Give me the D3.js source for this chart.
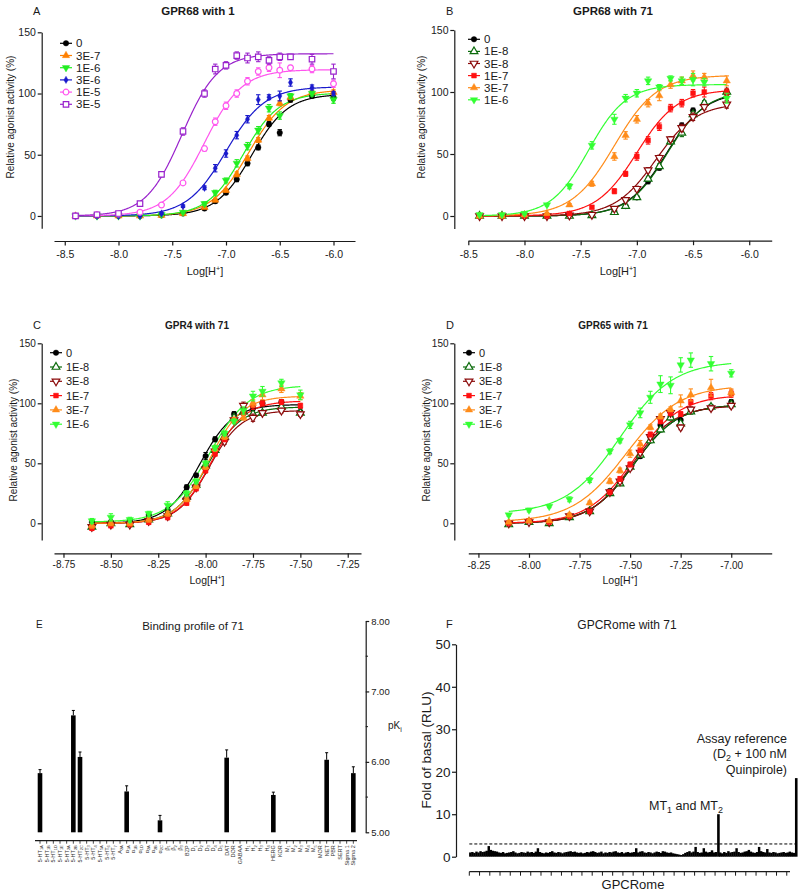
<!DOCTYPE html>
<html><head><meta charset="utf-8">
<script src="https://cdn.jsdelivr.net/npm/d3@7"></script>
<style>body{margin:0;background:#fff}svg{display:block}</style>
</head><body><svg id="c" width="800" height="892"></svg>
<script>
// ---------------- DATA ----------------
// Panel A: GPR68 with 1
const doseA = ["0","3E-7","1E-6","3E-6","1E-5","3E-5"];
const logHA = [-8.4,-8.2,-8.0,-7.8,-7.6,-7.4,-7.2,-7.1,-7.0,-6.9,-6.8,-6.7,-6.6,-6.5,-6.4,-6.2,-6.0];
const respA = [
 [0,0,0,0,0.5,2,6,12,19,30,43,56,75,68,95,98,97],
 [0,0,0,0,0.5,2,7,13,21,34,47,62,80,92,97,101,101],
 [0,0,0,0,1,3,10,19,29,43,57,70,88,82,98,100,95],
 [0,0,0,0,2,8,23,39,51,66,79,95,97,98,109,105,100],
 [0,1,1.5,3,9,27,55,77,90,100,110,118,121,119,121,120,108],
 [0,1,2,10,34,69,100,120,123,131,129,130,127,130,130,128,118]
];
const errA = [
 [0.5,0.5,0.5,0.5,0.5,0.8,1,1.5,1.5,2,2,2,2,2.5,2,1.5,2.5],
 [0.5,0.5,0.5,0.5,0.5,0.8,1,1.5,1.5,2,2,2,2,2,2,1.5,2],
 [0.5,0.5,0.5,0.5,0.8,1,1.5,2,2,3,3,3,3,3,2,2,3],
 [0.5,0.5,0.5,0.5,0.8,1,1.5,3,3,3,3,4,2,4,3,2,1.5],
 [0.5,0.8,0.8,0.8,1,1,2,3,3,3,3,3,3,6,2,3,3],
 [0.5,0.8,0.8,1.5,2,3,3,4,3,3,4,4,3,3,2,4,6]
];
const fitBottomA = [0,0,0,0,0,0];
const fitTopA = [99.5,103,100.5,105.5,119.5,132.5];
const fitEC50A = [-6.76,-6.79,-6.84,-7.0,-7.2,-7.41];
const fitHillA = [2.6,2.5,2.6,2.4,2.5,2.6];

// Panel B: GPR68 with 71
const doseB = ["0","1E-8","3E-8","1E-7","3E-7","1E-6"];
const logHB = [-8.4,-8.2,-8.0,-7.8,-7.6,-7.4,-7.2,-7.1,-7.0,-6.9,-6.8,-6.7,-6.6,-6.5,-6.4,-6.2];
const respB = [
 [0,0,0,0,0,1,4,8,15,28,39,61,73,85,90,99],
 [0,0,0,0,0,0.5,3,8,15,30,40,60,67,82,91,100],
 [0,0,0,0,0.5,1,6,13,22,37,47,62,71,80,88,90],
 [0,0,0,0,2,7,20,34,48,61,72,87,91,99,100,100],
 [0,0,1,2,9,26,48,65,78,91,97,106,109,113,112,109],
 [1,1,2,9,24,57,78,95,99,109,104,111,109,110,108,95]
];
const errB = [
 [0.5,0.5,0.5,0.5,0.5,0.8,1,1,1.5,2,2,2,2,2,2,2.5],
 [0.5,0.5,0.5,0.5,0.5,0.8,1,1,1.5,2,2,2,3,2,2,2],
 [0.5,0.5,0.5,0.5,0.5,0.8,1,1.5,2,2,2,2,3,3,2,3],
 [0.5,0.5,0.5,0.5,0.8,1,2,2,3,3,3,3,3,3,4,3],
 [0.5,0.5,0.5,0.8,1,2,3,3,3,3,4,3,3,4,3,4],
 [0.5,0.5,0.8,1,2,3,4,3,3,3,2,2,3,5,3,4]
];
const fitBottomB = [0,0,0,0,0,0];
const fitTopB = [100,101,91,102,113.5,106];
const fitEC50B = [-6.74,-6.73,-6.83,-7.0,-7.2,-7.43];
const fitHillB = [2.5,2.5,2.4,2.4,2.3,2.6];

// Panel C: GPR4 with 71
const doseC = ["0","1E-8","3E-8","1E-7","3E-7","1E-6"];
const logHC = [-8.6,-8.5,-8.4,-8.3,-8.2,-8.1,-8.05,-8.0,-7.95,-7.9,-7.85,-7.8,-7.75,-7.7,-7.6,-7.5];
const respC = [
 [1,1,2,7,11,30,40,56,70,74,91,96,96,100,101,93],
 [-3,0,-1,3,8,22,32,48,61,72,88,93,91,92,97,92],
 [-3,-1,-1,2,6,19,30,45,60,68,86,98,88,92,94,91],
 [-4,-2,-1,1,5,17,29,44,58,70,86,92,98,100,101,98],
 [-2,0,0,3,8,20,31,47,62,72,86,88,100,107,112,106],
 [2,5,3,8,15,25,35,50,63,75,85,94,106,110,117,107]
];
const errC = [
 [2,1.5,1.5,2,2,2,1.5,3,2,2,2,3,2,2,2,3],
 [2,1.5,1.5,2,2,2,2,2,2,2,2,2,2,2,2,2],
 [2,1.5,1.5,2,2,2,2,2,2,2,2,3,3,2,2,2],
 [2,1.5,1.5,2,2,2,2,2,2,2,2,2,3,2,2,2],
 [2,2,2,2,2,2,2,2,2,2,2,2,3,4,3,3],
 [2,3,2,2,3,2,2,2,2,2,2,3,4,4,3,4]
];
const fitBottomC = [0,0,0,0,0,1];
const fitTopC = [99,97,94,102,106,115];
const fitEC50C = [-8.03,-7.99,-7.98,-7.97,-7.98,-7.98];
const fitHillC = [5,5,5.2,5,5,4.2];

// Panel D: GPR65 with 71
const doseD = ["0","1E-8","3E-8","1E-7","3E-7","1E-6"];
const logHD = [-8.1,-8.0,-7.9,-7.8,-7.7,-7.6,-7.55,-7.5,-7.45,-7.4,-7.35,-7.3,-7.25,-7.2,-7.1,-7.0];
const respD = [
 [0,1,0,5,10,27,34,47,56,72,82,89,86,94,97,101],
 [-1,1,0,5,10,25,33,47,57,69,78,88,83,93,97,99],
 [0,1,1,6,10,26,35,46,59,72,87,92,80,95,96,98],
 [0,2,1,6,10,26,37,49,61,74,85,92,91,101,106,108],
 [1,2,2,7,17,35,44,58,66,80,89,95,102,107,113,109],
 [7,11,14,20,36,60,69,82,92,105,116,115,132,136,133,125]
];
const errD = [
 [1,1,1,1.5,1.5,1.5,1.5,2,2,2,2,2,3,2,2,2],
 [1,1,1,1.5,1.5,1.5,1.5,2,2,2,2,2,2,2,2,2],
 [1,1,1,1.5,1.5,1.5,1.5,2,2,2,2,2,2,2,2,2],
 [1,1,1,1.5,1.5,1.5,2,2,2,2,2,2,2,2,3,3],
 [1,1,1,1.5,1.5,2,2,3,3,2,2,2,5,5,7,3],
 [1,1.5,1,2,2,2,2,3,4,5,7,7,6,6,6,3]
];
const fitBottomD = [0,0,0,0,1,8];
const fitTopD = [99,99,98,107,115,135];
const fitEC50D = [-7.48,-7.48,-7.49,-7.48,-7.52,-7.55];
const fitHillD = [4,4,4.2,3.8,3.3,3.3];

// Panel E: binding profile (pKi), null = no measurable binding
const eTargets = ["5-HT_1A","5-HT_1B","5-HT_1D","5-HT_1E","5-HT_2A","5-HT_2B","5-HT_2C","5-HT_3","5-HT_4","5-HT_5A","5-HT_6","5-HT_7","A_2A","α_1A","α_1B","α_1D","α_2A","α_2B","α_2C","β_1","β_2","β_3","BZP","D_1","D_2","D_3","D_4","D_5","DAT","DOR","GABAA","H_1","H_2","H_3","H_4","HERG","KOR","M_1","M_2","M_3","M_4","M_5","MOR","NET","PBR","SERT","Sigma 1","Sigma 2"];
const ePKi = [5.84,null,null,null,null,6.66,6.07,null,null,null,null,null,null,5.58,null,null,null,null,5.17,null,null,null,null,null,null,null,null,null,6.06,null,null,null,null,null,null,5.53,null,null,null,null,null,null,null,6.03,null,null,null,5.84];
const eErr = [0.05,0,0,0,0,0.07,0.07,0,0,0,0,0,0,0.08,0,0,0,0,0.07,0,0,0,0,0,0,0,0,0,0.11,0,0,0,0,0,0,0.04,0,0,0,0,0,0,0,0.1,0,0,0,0.09];
const eTicks = [5,6,7,8];

// Panel F: GPCRome screen (fold of basal)
const fFold = [1.0,1.1,0.9,1.2,1.0,1.3,1.1,1.2,1.4,2.5,
 1.6,1.4,1.3,1.2,1.0,0.9,1.1,0.8,0.9,1.0,
 1.1,1.3,1.0,0.8,0.9,1.1,1.0,0.9,1.2,1.0,
 1.1,0.9,1.2,2.0,1.1,0.9,0.8,1.0,0.9,1.1,
 1.3,1.0,0.9,1.1,1.0,0.8,1.0,1.1,1.2,1.3,
 1.1,1.2,1.0,0.9,1.0,0.8,0.9,1.1,1.0,1.2,
 1.3,1.1,0.9,1.0,1.2,0.8,1.0,0.9,1.1,1.0,
 1.2,1.3,1.0,0.9,1.1,0.8,1.0,1.1,0.9,1.0,
 1.1,2.0,1.0,1.2,1.3,1.0,0.9,1.1,1.0,0.8,
 1.0,1.2,1.1,0.9,1.3,1.2,1.0,0.9,1.0,0.8,
 0.7,0.6,0.5,0.4,0.6,0.9,1.1,1.3,1.0,1.2,
 2.3,1.1,0.9,1.0,2.0,1.2,1.0,1.1,1.5,1.0,
 1.1,10.0,1.0,0.8,1.1,0.9,1.3,1.0,1.1,1.2,
 2.0,1.1,0.9,1.0,1.2,1.3,1.6,1.2,1.0,0.9,
 1.1,2.3,1.3,1.1,1.0,1.8,1.0,0.9,1.1,1.0,
 0.8,0.9,1.0,1.1,0.9,1.0,1.2,1.0,0.9,18.5];
const fThreshold = 3;
const fTicks = [0,10,20,30,40,50];

// ---------------- DRAWING ----------------
const FONT = '"Liberation Sans", Arial, Helvetica, sans-serif';
const svg = d3.select("#c").attr("font-family", FONT);
const INK = "#1a1a1a";

const colorsA = ["#000000","#ff8000","#22ee22","#1a1acc","#ff55ee","#9922cc"];
const symsA = ["circle","triUp","triDown","diamond","circleOpen","squareOpen"];
const colorsBCD = ["#000000","#0b6b0b","#8b0a0a","#ff1111","#ff8c1a","#33ff33"];
const symsBCD = ["circle","triUpOpen","triDownOpen","square","triUp","triDown"];

const symMap = {
  circle:{t:d3.symbolCircle,size:24},
  circleOpen:{t:d3.symbolCircle,size:26,open:true},
  square:{t:d3.symbolSquare,size:24},
  squareOpen:{t:d3.symbolSquare,size:30,open:true},
  triUp:{t:d3.symbolTriangle,size:24},
  triDown:{t:d3.symbolTriangle,size:24,rot:180},
  triUpOpen:{t:d3.symbolTriangle,size:26,open:true},
  triDownOpen:{t:d3.symbolTriangle,size:26,open:true,rot:180},
  diamond:{t:d3.symbolDiamond,size:16}
};
function marker(g,type,color,cx,cy){
  const s=symMap[type];
  g.append("path").attr("d",d3.symbol(s.t,s.size)())
    .attr("transform",`translate(${cx},${cy}) rotate(${s.rot||0})`)
    .attr("fill",s.open?"#fff":color).attr("stroke",color)
    .attr("stroke-width",s.open?1.2:0.4);
}
function styleAxis(a,fs){
  a.selectAll("path,line").attr("stroke",INK).attr("stroke-width",1.2);
  a.selectAll("text").attr("font-size",fs).attr("fill",INK).attr("font-family",FONT);
}
function logHTitle(g,x,y,fs){
  const t=g.append("text").attr("x",x).attr("y",y).attr("text-anchor","middle").attr("font-size",fs).attr("fill",INK);
  t.append("tspan").text("Log[H");
  t.append("tspan").attr("dy",-fs*0.4).attr("font-size",fs*0.65).text("+");
  t.append("tspan").attr("dy",fs*0.4).text("]");
}

function curvePanel(p){
  const g=svg.append("g");
  const x=d3.scaleLinear().domain(p.xDom).range(p.xRng);
  const y=d3.scaleLinear().domain(p.yDom).range(p.yRng);
  const ya=g.append("g").attr("transform",`translate(${p.yAxisX},0)`)
    .call(d3.axisLeft(y).tickValues([0,50,100,150]).tickSize(4).tickSizeOuter(0).tickPadding(1.8));
  styleAxis(ya,p.tickFs);
  const xa=g.append("g").attr("transform",`translate(0,${p.xAxisY})`)
    .call(d3.axisBottom(x).tickValues(p.xTicks).tickFormat(d=>d.toFixed(p.dec)).tickSize(4.5).tickSizeOuter(0).tickPadding(p.xPad));
  styleAxis(xa,p.tickFs);
  // titles
  g.append("text").attr("x",p.titleX).attr("y",p.titleY).attr("text-anchor","middle")
    .attr("font-weight","bold").attr("font-size",p.titleFs).attr("fill",INK).text(p.title);
  g.append("text").attr("x",p.letterX).attr("y",p.titleY).attr("font-size",11).attr("fill",INK).text(p.letter);
  g.append("text").attr("transform",`translate(${p.yTitleX},${p.yTitleY}) rotate(-90)`)
    .attr("text-anchor","middle").attr("font-size",10).attr("fill",INK).text("Relative agonist activity (%)");
  logHTitle(g,p.xTitleX,p.xTitleY,p.xTitleFs);
  // fitted curves
  const line=d3.line().x(d=>x(d[0])).y(d=>y(d[1]));
  p.doses.forEach((dose,i)=>{
    const b=p.bottom[i],t=p.top[i],e=p.ec50[i],h=p.hill[i];
    const pts=d3.range(p.fit[0],p.fit[1]+1e-9,0.005).map(v=>[v,b+(t-b)/(1+Math.pow(10,(e-v)*h))]);
    g.append("path").attr("d",line(pts)).attr("fill","none").attr("stroke",p.colors[i]).attr("stroke-width",1.2);
  });
  // points + error bars
  p.doses.forEach((dose,i)=>{
    const gs=g.append("g");
    p.xs.forEach((xv,j)=>{
      const v=p.resp[i][j],er=p.err[i][j];
      if(v==null) return;
      const cx=x(xv),y1=y(v-er),y2=y(v+er);
      gs.append("line").attr("x1",cx).attr("x2",cx).attr("y1",y1).attr("y2",y2).attr("stroke",p.colors[i]).attr("stroke-width",1.1);
      [y1,y2].forEach(yy=>gs.append("line").attr("x1",cx-2.2).attr("x2",cx+2.2).attr("y1",yy).attr("y2",yy).attr("stroke",p.colors[i]).attr("stroke-width",1.1));
      marker(gs,p.syms[i],p.colors[i],cx,y(v));
    });
  });
  // legend
  p.doses.forEach((dose,i)=>{
    const ly=p.legY+i*p.legSp;
    g.append("line").attr("x1",p.legX).attr("x2",p.legX+12).attr("y1",ly).attr("y2",ly).attr("stroke",p.colors[i]).attr("stroke-width",1.2);
    marker(g,p.syms[i],p.colors[i],p.legX+6,ly);
    g.append("text").attr("x",p.legX+16).attr("y",ly+4).attr("font-size",p.legFs).attr("fill",INK).text(dose);
  });
}

curvePanel({xDom:[-8.6,-5.8],xRng:[54,355],yDom:[-10,150],yRng:[228.2,32.3],yAxisX:41.7,xAxisY:241,
  xTicks:[-8.5,-8,-7.5,-7,-6.5,-6],dec:1,xPad:5.5,tickFs:10.5,
  title:"GPR68 with 1",titleX:198,titleY:15,titleFs:11.5,letter:"A",letterX:33,
  yTitleX:13.5,yTitleY:117,xTitleX:205,xTitleY:275,xTitleFs:11,
  doses:doseA,xs:logHA,resp:respA,err:errA,bottom:fitBottomA,top:fitTopA,ec50:fitEC50A,hill:fitHillA,fit:[-8.4,-6.0],
  colors:colorsA,syms:symsA,legX:60,legY:43.3,legSp:12.2,legFs:11.5});
curvePanel({xDom:[-8.5,-5.8],xRng:[468.3,771.7],yDom:[-10,150],yRng:[228.4,30],yAxisX:454.3,xAxisY:240.7,
  xTicks:[-8.5,-8,-7.5,-7,-6.5,-6],dec:1,xPad:5.5,tickFs:10.5,
  title:"GPR68 with 71",titleX:613,titleY:15,titleFs:11.5,letter:"B",letterX:446,
  yTitleX:425,yTitleY:117,xTitleX:618,xTitleY:275,xTitleFs:11,
  doses:doseB,xs:logHB,resp:respB,err:errB,bottom:fitBottomB,top:fitTopB,ec50:fitEC50B,hill:fitHillB,fit:[-8.4,-6.2],
  colors:colorsBCD,syms:symsBCD,legX:468,legY:39.3,legSp:12.1,legFs:11.5});
curvePanel({xDom:[-8.8,-7.18],xRng:[54,361],yDom:[-14,150],yRng:[540.1,343.3],yAxisX:41.7,xAxisY:553.3,
  xTicks:[-8.75,-8.5,-8.25,-8,-7.75,-7.5,-7.25],dec:2,xPad:3,tickFs:10,
  title:"GPR4 with 71",titleX:197,titleY:329,titleFs:10,letter:"C",letterX:33,
  yTitleX:17,yTitleY:440,xTitleX:207,xTitleY:584,xTitleFs:10.5,
  doses:doseC,xs:logHC,resp:respC,err:errC,bottom:fitBottomC,top:fitTopC,ec50:fitEC50C,hill:fitHillC,fit:[-8.6,-7.5],
  colors:colorsBCD,syms:symsBCD,legX:50,legY:352.7,legSp:14.3,legFs:11});
curvePanel({xDom:[-8.3,-6.8],xRng:[468.3,771.7],yDom:[-14,150],yRng:[540.1,343.3],yAxisX:454.3,xAxisY:553.3,
  xTicks:[-8.25,-8,-7.75,-7.5,-7.25,-7],dec:2,xPad:4,tickFs:10,
  title:"GPR65 with 71",titleX:613,titleY:329,titleFs:10,letter:"D",letterX:446,
  yTitleX:430,yTitleY:440,xTitleX:620,xTitleY:584,xTitleFs:10.5,
  doses:doseD,xs:logHD,resp:respD,err:errD,bottom:fitBottomD,top:fitTopD,ec50:fitEC50D,hill:fitHillD,fit:[-8.1,-7.0],
  colors:colorsBCD,syms:symsBCD,legX:463,legY:352.7,legSp:14.3,legFs:11});

// ---------- Panel E ----------
(function(){
  const g=svg.append("g");
  const x=d3.scaleBand().domain(d3.range(eTargets.length)).range([36.67,356.67]);
  const y=d3.scaleLinear().domain([5,8]).range([832.3,621]);
  const ax=g.append("g").attr("transform","translate(365.7,0)")
    .call(d3.axisRight(y).tickValues(eTicks).tickFormat(d3.format(".2f")).tickSize(3.5).tickSizeOuter(0).tickPadding(2));
  styleAxis(ax,9.5);
  [5.5,6.5,7.5].forEach(v=>g.append("line").attr("x1",365.7).attr("x2",368).attr("y1",y(v)).attr("y2",y(v)).attr("stroke",INK).attr("stroke-width",1));
  const pk=g.append("text").attr("x",388).attr("y",729).attr("font-size",10).attr("fill",INK);
  pk.append("tspan").text("pK"); pk.append("tspan").attr("dy",3).attr("font-size",7).text("i");
  g.append("text").attr("x",36).attr("y",628).attr("font-size",10).attr("fill",INK).text("E");
  g.append("text").attr("x",193).attr("y",630).attr("text-anchor","middle").attr("font-size",11.5).attr("fill",INK).text("Binding profile of 71");
  const bw=4.6;
  ePKi.forEach((v,i)=>{
    if(v==null) return;
    const cx=x(i)+x.bandwidth()/2;
    g.append("rect").attr("x",cx-bw/2).attr("y",y(v)).attr("width",bw).attr("height",y(5)-y(v)).attr("fill","#000");
    g.append("line").attr("x1",cx).attr("x2",cx).attr("y1",y(v)).attr("y2",y(v+eErr[i])).attr("stroke","#000").attr("stroke-width",1);
    g.append("line").attr("x1",cx-1.5).attr("x2",cx+1.5).attr("y1",y(v+eErr[i])).attr("y2",y(v+eErr[i])).attr("stroke","#000").attr("stroke-width",1);
  });
  const axY=840.7;
  g.append("line").attr("x1",35).attr("x2",357).attr("y1",axY).attr("y2",axY).attr("stroke",INK).attr("stroke-width",1.2);
  eTargets.forEach((t,i)=>{
    const cx=x(i)+x.bandwidth()/2;
    g.append("line").attr("x1",cx).attr("x2",cx).attr("y1",axY).attr("y2",axY+3).attr("stroke",INK).attr("stroke-width",0.8);
    const parts=t.split("_");
    const tx=g.append("text").attr("transform",`translate(${cx+2},${axY+4.5}) rotate(-90)`).attr("text-anchor","end").attr("font-size",5.5).attr("fill","#333");
    tx.append("tspan").text(parts[0]);
    if(parts[1]) tx.append("tspan").attr("dy",1.3).attr("font-size",4).text(parts[1]);
  });
})();

// ---------- Panel F ----------
(function(){
  const g=svg.append("g");
  const x=d3.scaleBand().domain(d3.range(fFold.length)).range([469.3,797]);
  const y=d3.scaleLinear().domain([0,50]).range([856.7,644.3]);
  const ax=g.append("g").attr("transform","translate(456,0)")
    .call(d3.axisLeft(y).tickValues(fTicks).tickSize(4).tickSizeOuter(0).tickPadding(1.5));
  styleAxis(ax,13.5);
  g.append("text").attr("x",446).attr("y",628).attr("font-size",11).attr("fill",INK).text("F");
  g.append("text").attr("x",627).attr("y",629).attr("text-anchor","middle").attr("font-size",12).attr("fill",INK).text("GPCRome with 71");
  g.append("text").attr("transform","translate(431,750) rotate(-90)").attr("text-anchor","middle").attr("font-size",13.5).attr("fill",INK).text("Fold of basal (RLU)");
  fFold.forEach((v,i)=>{
    const big=v>5;
    const w=big?2.6:x.bandwidth()+0.4;
    g.append("rect").attr("x",x(i)+(big?0:-0.2)).attr("y",y(v)).attr("width",w).attr("height",y(0)-y(v)).attr("fill","#000");
  });
  g.append("line").attr("x1",469.3).attr("x2",797).attr("y1",y(fThreshold)).attr("y2",y(fThreshold))
    .attr("stroke","#000").attr("stroke-width",1).attr("stroke-dasharray","3,2");
  const axY=871.7;
  g.append("line").attr("x1",469.3).attr("x2",790).attr("y1",axY).attr("y2",axY).attr("stroke",INK).attr("stroke-width",1.2);
  d3.range(0,fFold.length,5).forEach(i=>{
    g.append("line").attr("x1",x(i)).attr("x2",x(i)).attr("y1",axY).attr("y2",axY+4).attr("stroke",INK).attr("stroke-width",1);
  });
  g.append("text").attr("x",633).attr("y",889).attr("text-anchor","middle").attr("font-size",13).attr("fill",INK).text("GPCRome");
  // annotations
  const mt=g.append("text").attr("x",649).attr("y",810).attr("font-size",12.5).attr("fill",INK);
  mt.append("tspan").text("MT");
  mt.append("tspan").attr("dy",3).attr("font-size",9).text("1");
  mt.append("tspan").attr("dy",-3).text(" and  MT");
  mt.append("tspan").attr("dy",3).attr("font-size",9).text("2");
  g.append("text").attr("x",787).attr("y",742.7).attr("text-anchor","end").attr("font-size",12.5).attr("fill",INK).text("Assay reference");
  const d2=g.append("text").attr("x",787).attr("y",758.3).attr("text-anchor","end").attr("font-size",12.5).attr("fill",INK);
  d2.append("tspan").text("(D");
  d2.append("tspan").attr("dy",3).attr("font-size",9).text("2");
  d2.append("tspan").attr("dy",-3).text(" + 100 nM");
  g.append("text").attr("x",787).attr("y",774.3).attr("text-anchor","end").attr("font-size",12.5).attr("fill",INK).text("Quinpirole)");
})();
</script></body></html>
